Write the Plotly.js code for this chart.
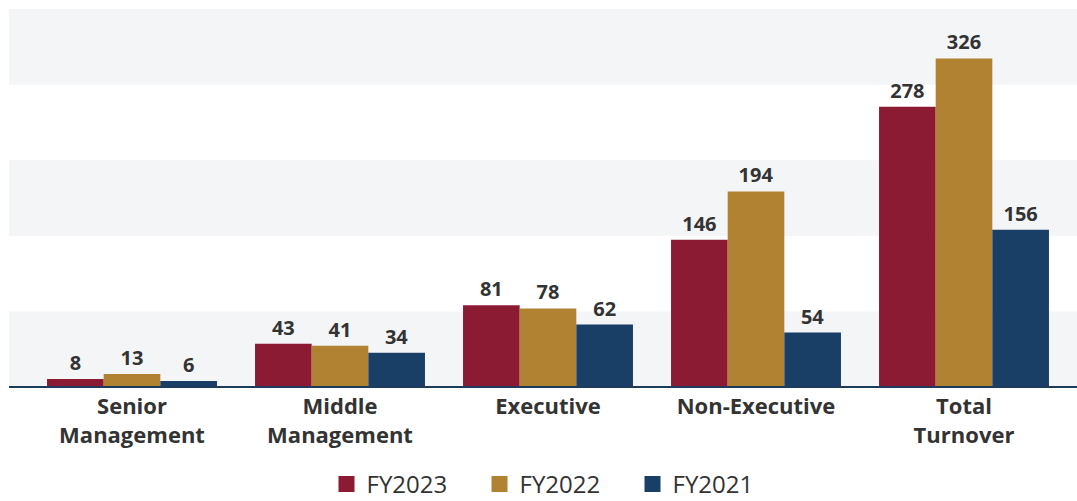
<!DOCTYPE html>
<html>
<head>
<meta charset="utf-8">
<script src="https://cdn.plot.ly/plotly-3.0.1.min.js"></script>
<style>
html,body{margin:0;padding:0;background:#fff;}
#chart{width:1077px;height:501px;}
</style>
</head>
<body>
<div id="chart"></div>
<script>
const categories = ["Senior<br>Management", "Middle<br>Management", "Executive", "Non-Executive", "Total<br>Turnover"];
const seriesNames = ["FY2023", "FY2022", "FY2021"];
const fy2023 = [8, 43, 81, 146, 278];
const fy2022 = [13, 41, 78, 194, 326];
const fy2021 = [6, 34, 62, 54, 156];
const colors = ["#8b1a33", "#b08232", "#193f66"];
const yMax = 375;
const bandStep = 75;

const seriesValues = [fy2023, fy2022, fy2021];
const labelFont = {family: "Open Sans", size: 20, color: "#333333", weight: 700};

const traces = seriesValues.map((vals, i) => ({
  type: "bar",
  name: seriesNames[i],
  x: categories,
  y: vals,
  text: vals.map(String),
  textposition: "outside",
  textfont: labelFont,
  cliponaxis: false,
  marker: {color: colors[i], line: {width: 0}},
  showlegend: false,
  hoverinfo: "skip"
}));

// legend entries
seriesNames.forEach((n, i) => {
  traces.push({
    type: "scatter",
    mode: "markers",
    name: n,
    x: [null], y: [null],
    marker: {symbol: "square", size: 16, color: colors[i], line: {width: 0}},
    showlegend: true,
    hoverinfo: "skip"
  });
});

const L = 28, R = 9, W = 1077;
const plotW = W - L - R;
const xLeft = (9 - L) / plotW;
const xRight = (W - L) / plotW;

const shapes = [];
for (let v = 0; v < yMax; v += bandStep * 2) {
  shapes.push({
    type: "rect", xref: "paper", yref: "paper",
    x0: xLeft, x1: xRight, y0: v / yMax, y1: Math.min(v + bandStep, yMax) / yMax,
    fillcolor: "#f4f5f7", line: {width: 0}, layer: "below"
  });
}
shapes.push({
  type: "line", xref: "paper", yref: "paper",
  x0: xLeft, x1: xRight, y0: 0, y1: 0,
  line: {color: "#1f3b5c", width: 2}, layer: "above"
});

const layout = {
  width: 1077, height: 501,
  margin: {l: L, r: R, t: 9, b: 114, pad: 0, autoexpand: false},
  paper_bgcolor: "#ffffff",
  plot_bgcolor: "rgba(0,0,0,0)",
  barmode: "group",
  bargap: 0.183,
  bargroupgap: 0,
  font: {family: "Open Sans", color: "#333333"},
  xaxis: {
    type: "category",
    automargin: false,
    showgrid: false, zeroline: false, showline: false,
    ticks: "",
    ticklabelstandoff: 4,
    tickfont: {family: "Open Sans", size: 22, color: "#333333", weight: 700},
    fixedrange: true
  },
  yaxis: {
    range: [0, yMax],
    automargin: false,
    showgrid: false, zeroline: false, showline: false,
    showticklabels: false, ticks: "",
    fixedrange: true
  },
  shapes: shapes,
  showlegend: true,
  legend: {
    orientation: "h",
    x: 0.5 + 8 / plotW, xanchor: "center",
    yref: "container",
    y: 0.078, yanchor: "top",
    entrywidth: 108,
    font: {family: "Open Sans", size: 24, color: "#333333"},
    itemclick: false, itemdoubleclick: false,
    bgcolor: "rgba(0,0,0,0)"
  }
};

Plotly.newPlot("chart", traces, layout, {displayModeBar: false, staticPlot: true});
</script>
</body>
</html>
